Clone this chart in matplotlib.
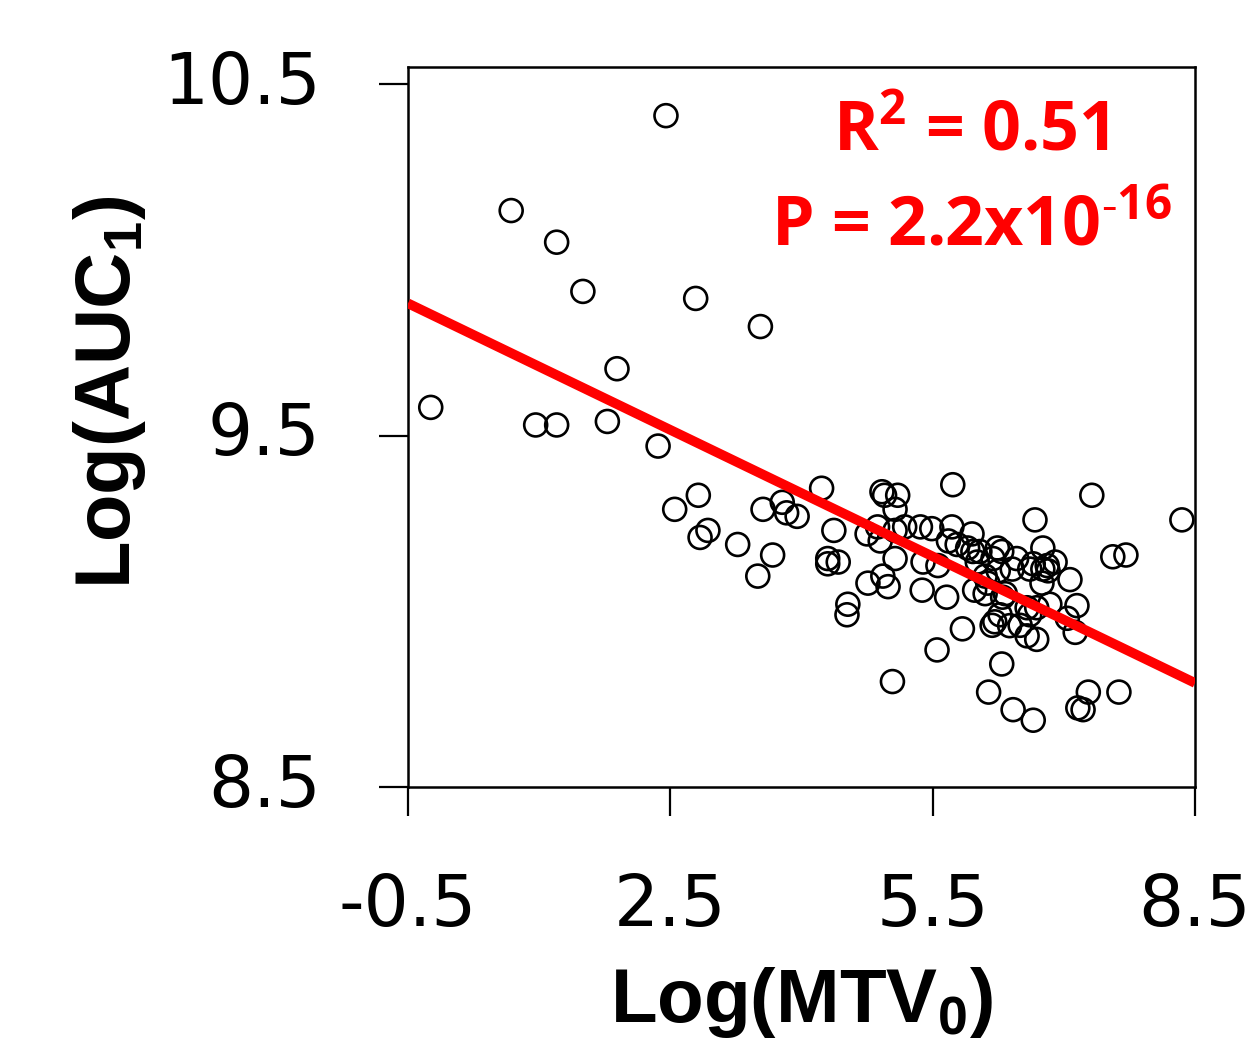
import matplotlib
matplotlib.use("Agg")
import matplotlib.pyplot as plt
import numpy as np

plt.rcParams['mathtext.fontset'] = 'custom'
plt.rcParams['mathtext.bf'] = 'Liberation Sans:bold'
plt.rcParams['mathtext.sf'] = 'Open Sans:bold'
plt.rcParams['mathtext.rm'] = 'DejaVu Sans'

# Data
log_mtv0 = [-0.24, 0.68, 0.96, 1.20, 1.20, 1.50, 1.78, 1.89, 2.36, 2.45,
            2.55, 2.79, 2.82, 2.84, 2.93, 3.27, 3.50, 3.53, 3.56, 3.67,
            3.78, 3.83, 3.95, 4.23, 4.30, 4.42, 4.30, 4.37, 4.53, 4.52,
            5.04, 5.55, 5.84, 5.73, 4.92, 4.95, 5.10, 5.07, 4.75, 4.87,
            4.90, 5.07, 5.18, 5.36, 5.49, 5.72, 5.68, 5.78, 5.07, 5.39,
            5.56, 4.93, 4.99, 4.76, 5.38, 5.66, 5.95, 5.90, 5.96, 6.04,
            6.24, 6.29, 6.46, 6.76, 6.90, 6.81, 6.76, 6.82, 6.65, 6.61,
            6.01, 6.19, 6.25, 6.41, 6.10, 6.13, 6.75, 7.07, 5.98, 6.10,
            6.33, 6.30, 6.58, 6.69, 6.61, 6.84, 7.15, 7.04, 6.27, 6.21,
            6.18, 6.38, 6.50, 6.58, 6.69, 7.13, 6.67, 7.32, 8.35, 7.56,
            7.71, 6.29, 6.14, 6.42, 6.65, 7.16, 7.22, 7.28, 7.63]
log_auc1 = [9.58, 10.14, 9.53, 10.05, 9.53, 9.91, 9.54, 9.69, 9.47, 10.41,
            9.29, 9.89, 9.33, 9.21, 9.23, 9.19, 9.10, 9.81, 9.29, 9.16,
            9.31, 9.28, 9.27, 9.35, 9.15, 9.14, 9.135, 9.23, 9.02, 8.99,
            8.80, 8.89, 8.95, 9.36, 9.34, 9.33, 9.33, 9.29, 9.22, 9.24,
            9.20, 9.23, 9.24, 9.24, 9.235, 9.24, 9.20, 9.19, 9.15, 9.14,
            9.13, 9.10, 9.07, 9.08, 9.06, 9.04, 9.22, 9.18, 9.17, 9.17,
            9.18, 9.17, 9.15, 9.18, 9.14, 9.13, 9.12, 9.115, 9.135, 9.12,
            9.14, 9.15, 9.115, 9.12, 9.10, 9.08, 9.08, 9.09, 9.06, 9.05,
            9.05, 9.04, 9.01, 9.01, 8.99, 9.02, 9.016, 8.98, 8.99, 8.97,
            8.96, 8.959, 8.96, 8.93, 8.92, 8.94, 9.26, 9.33, 9.26, 9.155,
            9.16, 8.85, 8.77, 8.72, 8.69, 8.725, 8.72, 8.77, 8.77]
fit_intercept = 9.816
fit_slope = -0.12
r2_label = "0.51"
p_label = "2.2x10"
p_exp = "\u201016"
x_ticks = [-0.5, 2.5, 5.5, 8.5]
y_ticks = [8.5, 9.5, 10.5]

W, H = 1249, 1055
fig = plt.figure(figsize=(W / 100, H / 100), dpi=100)
ax = fig.add_axes([408 / W, 1 - 787 / H, (1195 - 408) / W, (787 - 67) / H])

ax.scatter(log_mtv0, log_auc1, s=16.5 ** 2, facecolors='none', edgecolors='black',
           linewidths=1.9, zorder=3)
xl = np.array([-0.5, 8.5])
ax.plot(xl, fit_intercept + fit_slope * xl, color='#ff0000', lw=7, zorder=4,
        solid_capstyle='butt')

ax.set_xlim(-0.5, 8.5)
ax.set_ylim(8.5, 10.5 + 17 / 351)
ax.set_xticks(x_ticks)
ax.set_xticklabels([f"{v:g}" for v in x_ticks])
ax.set_yticks(y_ticks)
ax.set_yticklabels([f"{v:g}" for v in y_ticks])
for s in ax.spines.values():
    s.set_linewidth(1.8)
ax.tick_params(axis='both', direction='out', length=21, width=1.6,
               labelsize=51, colors='black')
ax.tick_params(axis='y', pad=42)
ax.tick_params(axis='x', pad=40)
for lab in ax.get_xticklabels() + ax.get_yticklabels():
    lab.set_fontfamily('DejaVu Sans')
for lab in ax.get_yticklabels():
    lab.set_va('center')

fig.text(801 / W, 1 - 1022 / H, r'Log(MTV$_\mathbf{0}$)', ha='center', va='baseline',
         fontsize=55, fontweight='bold', family='Liberation Sans')
fig.text(109 / W, 1 - 392 / H, r'Log(AUC$_\mathbf{1}$)', ha='center', va='center',
         rotation=90, fontsize=56, fontweight='bold', family='Liberation Sans')

ax.text((971 - 408) / 787, (787 - 150) / 720, r'R$^\mathsf{2}$ = ' + r2_label,
        transform=ax.transAxes, ha='center', va='baseline', color='#ff0000',
        fontsize=49, fontweight='bold', family='Open Sans')
ax.text((971 - 408) / 787, (787 - 245) / 720,
        'P = ' + p_label + r'$^\mathsf{' + p_exp + '}$',
        transform=ax.transAxes, ha='center', va='baseline', color='#ff0000',
        fontsize=49, fontweight='bold', family='Open Sans')

fig.savefig('out.png', dpi=100)
